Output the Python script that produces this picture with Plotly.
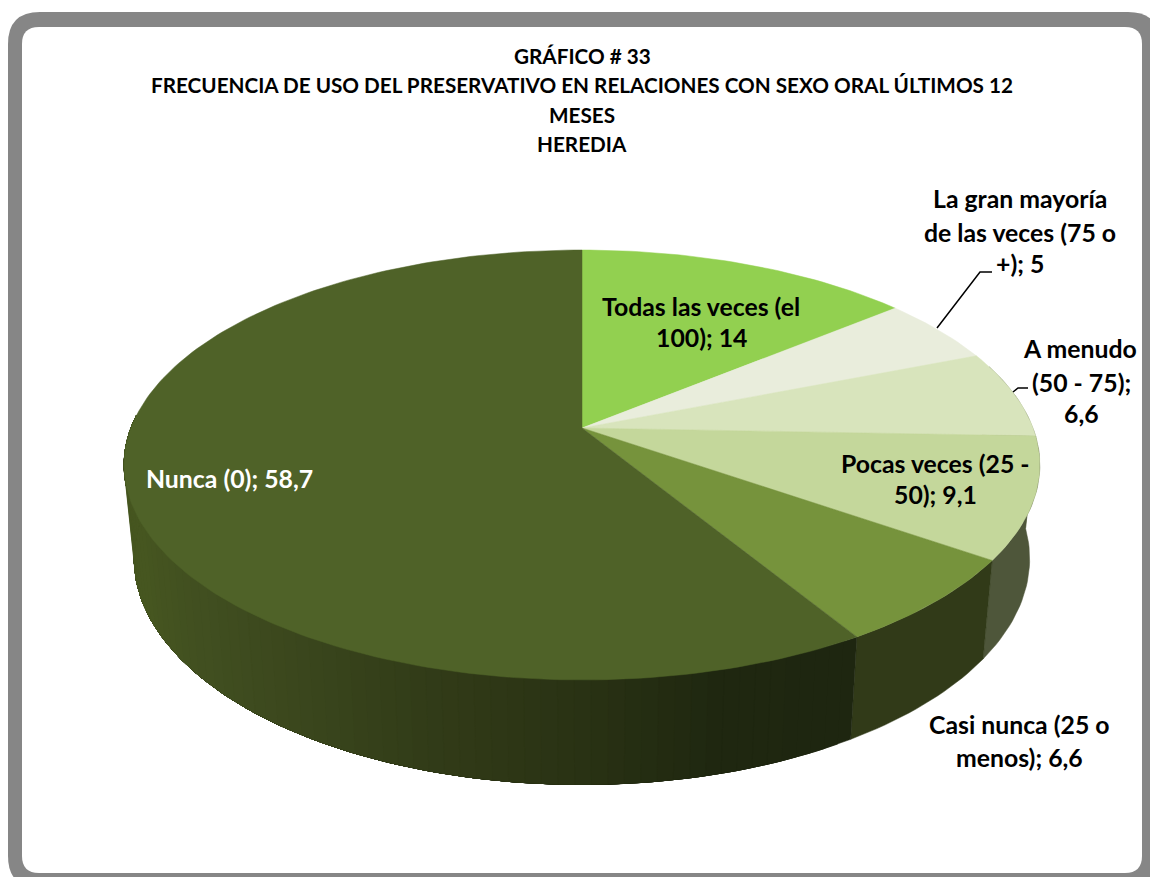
import math
import plotly.graph_objects as go

categories = ["Todas las veces (el 100)", "La gran mayoría de las veces (75 o +)", "A menudo (50 - 75)",
              "Pocas veces (25 - 50)", "Casi nunca (25 o menos)", "Nunca (0)"]
values = [14, 5, 6.6, 9.1, 6.6, 58.7]
top_colors = ["#92D050", "#E9EDDC", "#D8E4BC", "#C4D79B", "#76933C", "#4F6228"]
side_colors = ["#5C8232", "#8A8E7F", "#7F8A66", "#4E563A", "#313A18", None]
nunca_side_ramp = ["#1E2610", "#1F2710", "#2A3314", "#323C18", "#3B471D", "#414F20", "#465620"]

title_lines = ["GRÁFICO # 33",
               "FRECUENCIA DE USO DEL PRESERVATIVO EN RELACIONES CON SEXO ORAL ÚLTIMOS 12",
               "MESES", "HEREDIA"]
title_y = [56, 85, 115, 144]

label_lines = [
    ("Todas las veces (el", 701, 306, "black"), ("100); 14", 701, 337, "black"),
    ("La gran mayoría", 1020, 198, "black"), ("de las veces (75 o", 1020, 232, "black"), ("+); 5", 1020, 263, "black"),
    ("A menudo", 1080, 348, "black"), ("(50 - 75);", 1081, 382, "black"), ("6,6", 1081, 413, "black"),
    ("Pocas veces (25 -", 935, 463, "black"), ("50); 9,1", 935, 494, "black"),
    ("Casi nunca (25 o", 1019, 724, "black"), ("menos); 6,6", 1019, 757, "black"),
    ("Nunca (0); 58,7", 229, 478, "white"),
]
leaders = [[(937, 328), (980, 272), (992, 272)], [(1013, 392), (1018, 388), (1028, 388)]]

FONT = "Lato"
CX, K = 582, 0.172
TOP = dict(R=451, S=208.6, C=428)
BOT = dict(R=441, S=219, C=520)
VISIBLE_END = 76  # percentage round the pie past which the wall faces away


def project(pct, plane):
    """Percentage round the pie -> pixel position on a perspective-tilted disc."""
    t = 2 * math.pi * pct / 100
    w = 1 + K * math.cos(t)
    return CX + plane["R"] * math.sin(t) / w, plane["C"] - plane["S"] * math.cos(t) / w


def hex_mix(ramp, f):
    f = max(0, min(1, f)) * (len(ramp) - 1)
    i = min(int(f), len(ramp) - 2)
    a, b = ramp[i], ramp[i + 1]
    g = f - i
    return "#" + "".join(f"{round(int(a[j:j+2],16)*(1-g)+int(b[j:j+2],16)*g):02X}" for j in (1, 3, 5))


fig = go.Figure()


def poly(pts, color):
    xs, ys = zip(*pts)
    fig.add_trace(go.Scatter(x=list(xs) + [xs[0]], y=list(ys) + [ys[0]], mode="lines", fill="toself",
                             fillcolor=color, line=dict(color=color, width=0.5), hoverinfo="skip",
                             showlegend=False))


def wall(p0, p1, color):
    n = max(4, int((p1 - p0) * 3))
    ps = [p0 + (p1 - p0) * j / n for j in range(n + 1)]
    poly([project(p, TOP) for p in ps] + [project(p, BOT) for p in reversed(ps)], color)


# side wall, painted front to back so each piece overlaps the next and no seams show
edges = [0]
for v in values:
    edges.append(edges[-1] + v)
for i, v in enumerate(values):
    a, b = edges[i], edges[i + 1]
    if side_colors[i] is not None:
        if b > 20:
            wall(max(a, 20), b, side_colors[i])
    else:
        steps = 70
        for j in range(steps):
            p0 = a + (VISIBLE_END - a) * j / steps
            wall(p0, VISIBLE_END, hex_mix(nunca_side_ramp, (p0 - a) / (0.45 * v)))

# top face
for i, v in enumerate(values):
    a, b = edges[i], edges[i + 1]
    n = max(12, int(v * 3))
    pts = [(CX, TOP["C"])] + [project(a + v * j / n, TOP) for j in range(n + 1)]
    poly(pts, top_colors[i])

for seg in leaders:
    fig.add_trace(go.Scatter(x=[p[0] for p in seg], y=[p[1] for p in seg], mode="lines",
                             line=dict(color="black", width=1.5), hoverinfo="skip", showlegend=False))

for line, y in zip(title_lines, title_y):
    fig.add_annotation(x=582, y=y, text=f"<b>{line}</b>", showarrow=False,
                       font=dict(family=FONT, size=20.7, color="black"))
for text, x, y, col in label_lines:
    fig.add_annotation(x=x, y=y, text=f"<b>{text}</b>", showarrow=False,
                       font=dict(family=FONT, size=24.8, color=col))


def rrect(x0, y0, x1, y1, r):
    return (f"M{x0+r},{y0} L{x1-r},{y0} Q{x1},{y0} {x1},{y0+r} L{x1},{y1-r} Q{x1},{y1} {x1-r},{y1} "
            f"L{x0+r},{y1} Q{x0},{y1} {x0},{y1-r} L{x0},{y0+r} Q{x0},{y0} {x0+r},{y0} Z")


fig.update_layout(
    width=1150, height=877, margin=dict(l=0, r=0, t=0, b=0), paper_bgcolor="white", plot_bgcolor="white",
    xaxis=dict(range=[0, 1150], visible=False, fixedrange=True),
    yaxis=dict(range=[877, 0], visible=False, fixedrange=True),
    showlegend=False,
    shapes=[
        dict(type="path", path=rrect(8, 12, 1160, 888, 32), fillcolor="#868686", line_width=0, layer="below"),
        dict(type="path", path=rrect(22, 27, 1142, 873, 17), fillcolor="white", line_width=0, layer="below"),
    ],
)
fig.write_html("out.html", post_script="document.body.style.margin='0';",
               config=dict(displayModeBar=False))
